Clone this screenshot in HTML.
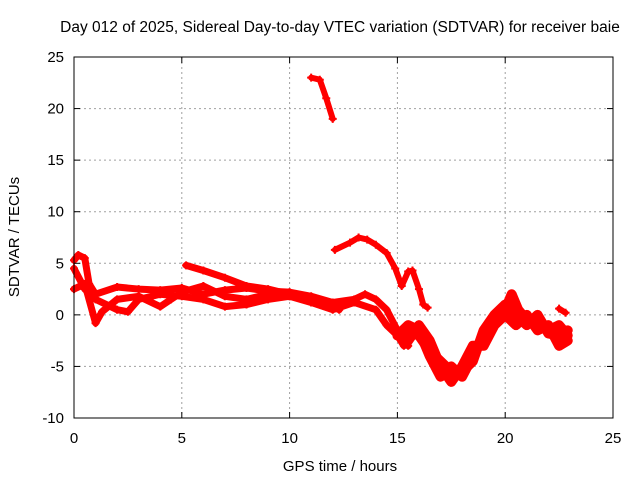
<!DOCTYPE html>
<html><head><meta charset="utf-8"><style>
body{margin:0;background:#fff;}
svg text{font-family:"Liberation Sans",sans-serif;font-size:14px;fill:#000;}
</style></head><body>
<svg id="chart" width="640" height="480">
<rect width="640" height="480" fill="#fff"/>
<text x="340" y="32" text-anchor="middle" style="font-size:15.5px">Day 012 of 2025, Sidereal Day-to-day VTEC variation (SDTVAR) for receiver baie</text>
<g id="grid"></g>
<g id="series"></g>
<rect x="74" y="57" width="539" height="361" fill="none" stroke="#000" stroke-width="1"/>
<g id="axes"></g>
<text x="340" y="471" text-anchor="middle" style="font-size:15px">GPS time / hours</text>
<text transform="translate(19,237) rotate(-90)" text-anchor="middle" style="font-size:15px">SDTVAR / TECUs</text>
</svg>
<script>
const xTicks=[0,5,10,15,20,25];
const yTicks=[-10,-5,0,5,10,15,20,25];
const trackA=[[11,23],[11.4,22.8],[11.7,21],[12,19]];
const trackB=[[12.1,6.3],[12.8,7.0],[13.2,7.5],[13.6,7.3],[14,6.8],[14.5,6],[14.9,4.5],[15.2,2.8],[15.5,4.2],[15.7,4.3],[16,2.5],[16.2,1],[16.4,0.7]];
const trackC=[[5.2,4.8],[6,4.3],[7,3.6],[8,2.8],[9,2.5],[10,2],[11,1.6],[12,1.0]];
const trackD=[[0,5.3],[0.2,5.8],[0.5,5.5],[0.7,3],[1,2],[2,2.7],[3,2.5],[4,2.4],[5,2.6],[6,2.0],[7,2.4],[8,2.6],[9,2.3],[10,2.2],[11,1.8],[12,1.2],[13,1.5],[13.5,2],[14,1.5],[14.5,0.5],[15,-1.5],[15.5,-3]];
const trackE=[[0,4.5],[0.5,2.5],[1,1.5],[2,0.5],[2.5,0.3],[3,1.5],[4,2],[5,1.8],[6,1.5],[7,0.8],[8,1],[9,1.5],[10,1.8],[11,1.2],[12,0.5],[13,1.2],[14,0.5],[14.5,-1],[15,-2],[15.3,-3]];
const trackF=[[0,2.5],[0.5,3],[1,-0.8],[1.3,0.3],[2,1.5],[3,1.8],[4,0.8],[4.5,1.5],[5,2.2],[6,2.8],[7,1.8],[8,1.5],[9,2],[10,1.8],[11,1.5],[11.8,1],[12.3,0.5]];
const trackG=[[15,-2],[15.5,-1],[16,-1.5],[16.5,-4],[17,-6],[17.5,-5],[18,-6],[18.5,-4],[19,-2],[19.5,-0.5],[20,0.5],[20.3,2],[20.6,0.5],[21,-0.5],[21.5,-0.8],[22,-1.5],[22.5,-1],[22.9,-2]];
const trackH=[[15.5,-2.5],[16,-1],[16.5,-2.5],[17,-5],[17.5,-6.5],[18,-5],[18.5,-3],[19,-3],[19.5,-1],[20,0],[20.5,-1],[21,0],[21.5,-1.5],[22,-1],[22.5,-3],[22.9,-2.5]];
const trackJ=[[15.3,-1.5],[16,-2],[16.5,-3.5],[17,-4.5],[17.5,-5.5],[18,-5.5],[18.5,-4.5],[19,-1.5],[19.5,0],[20,1],[20.5,0],[21,-1],[21.5,0],[22,-1.8],[22.5,-2],[22.9,-1.5]];
const trackI=[[22.5,0.6],[22.8,0.2]];
const tracks=[trackA,trackB,trackC,trackD,trackE,trackF,trackG,trackH,trackJ,trackI];
const widths=[6,6,7,7,7,7,10,10,10,6];

const X0=74,X1=613,Y0=418,Y1=57;
function xs(v){return X0+(v-0)/25*(X1-X0);}
function ys(v){return Y0-(v+10)/35*(Y0-Y1);}
const NS="http://www.w3.org/2000/svg";
const grid=document.getElementById('grid'),axes=document.getElementById('axes'),ser=document.getElementById('series');
function mk(tag,attrs,parent){const e=document.createElementNS(NS,tag);for(const k in attrs)e.setAttribute(k,attrs[k]);parent.appendChild(e);return e;}
xTicks.forEach(t=>{
  const x=xs(t);
  if(t>0&&t<25){const g=mk('line',{x1:x,x2:x,y1:Y1,y2:Y0,stroke:'#a0a0a0','stroke-dasharray':'2,3'},grid);
  
  }
  mk('line',{x1:x,x2:x,y1:Y0,y2:Y0-6,stroke:'#000'},axes);
  mk('line',{x1:x,x2:x,y1:Y1,y2:Y1+6,stroke:'#000'},axes);
  const tx=mk('text',{x:x,y:Y0+25,'text-anchor':'middle',style:'font-size:15px'},axes);tx.textContent=t;
  
  
});
yTicks.forEach(t=>{
  const y=ys(t);
  if(t>-10&&t<25){const g=mk('line',{x1:X0,x2:X1,y1:y,y2:y,stroke:'#a0a0a0','stroke-dasharray':'2,3'},grid);
  
  }
  mk('line',{x1:X0,x2:X0+6,y1:y,y2:y,stroke:'#000'},axes);
  mk('line',{x1:X1,x2:X1-6,y1:y,y2:y,stroke:'#000'},axes);
  const tx=mk('text',{x:X0-10,y:y+5,'text-anchor':'end',style:'font-size:15px'},axes);tx.textContent=t;
  
  
});
tracks.forEach((tr,i)=>{
  const p=mk('polyline',{points:tr.map(d=>xs(d[0])+','+ys(d[1])).join(' '),fill:'none',stroke:'#ff0000','stroke-width':widths[i],'stroke-linejoin':'round','stroke-linecap':'round'},ser);
  
  
  tr.forEach(d=>{
    const x=xs(d[0]),y=ys(d[1]);
    const m=mk('path',{d:`M${x-4},${y}H${x+4}M${x},${y-4}V${y+4}`,stroke:'#ff0000','stroke-width':2},ser);
    
    
  });
});
</script>
</body></html>
